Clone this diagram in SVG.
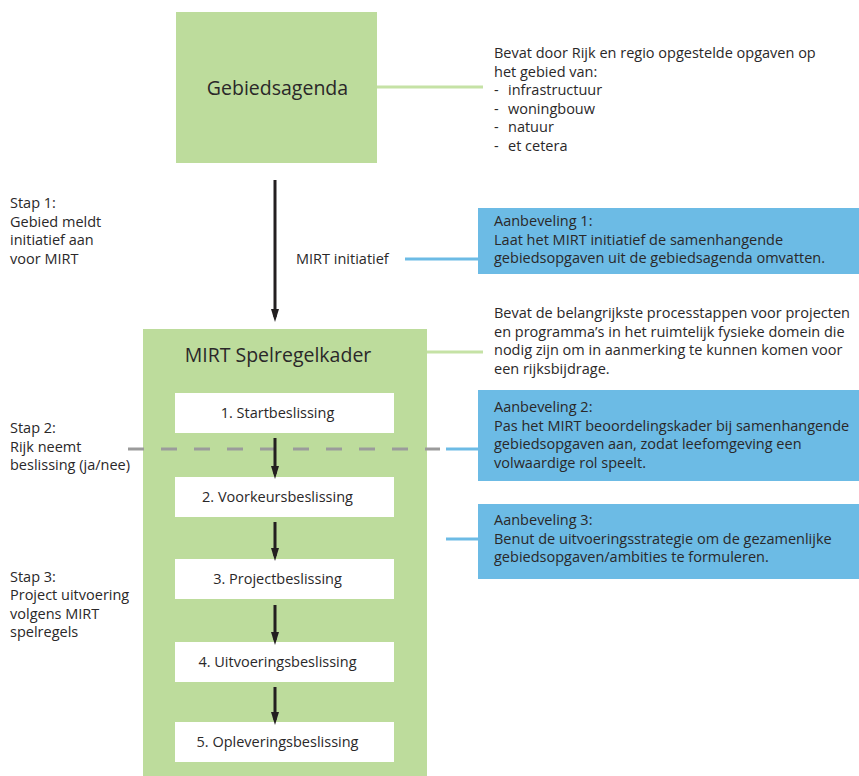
<svg xmlns="http://www.w3.org/2000/svg" width="859" height="776" viewBox="0 0 859 776">
<defs>
<marker id="ah" markerWidth="13" markerHeight="21" refX="13" refY="6.5" orient="auto" markerUnits="userSpaceOnUse" viewBox="0 0 21 13">
<path d="M0,0 L21,6.5 L0,13 Z" fill="#231f20"/>
</marker>
</defs>
<style>
text{font-family:"Open Sans","Lato","Liberation Sans",sans-serif;fill:#2a2829;font-size:14.5px}
.green{fill:#bddc9c}
.blue{fill:#6cbbe5}
.white{fill:#ffffff}
.big{font-size:19.5px}
.mid{text-anchor:middle}
.arrow{stroke:#231f20;stroke-width:3;fill:none;marker-end:url(#ah)}
.gline{stroke:#c5e2a5;stroke-width:3;fill:none}
.bline{stroke:#6cbbe5;stroke-width:3;fill:none}
.dash{stroke:#9b9b9b;stroke-width:3;stroke-dasharray:16 17;fill:none}
</style>
<rect x="0" y="0" width="859" height="776" fill="#ffffff"/>

<g id="connectors">
<line class="gline" x1="377" y1="87" x2="483" y2="87"/>
<line class="gline" x1="427" y1="352" x2="483" y2="352"/>
<line class="bline" x1="405" y1="259" x2="478" y2="259"/>
<line class="bline" x1="446" y1="449" x2="478" y2="449"/>
<line class="bline" x1="446" y1="539" x2="478" y2="539"/>
<line class="arrow" x1="275" y1="180" x2="275" y2="317"/>
</g>

<g id="gebiedsagenda">
<rect class="green" x="176" y="12" width="201" height="151"/>
<text class="big mid" x="277.5" y="95">Gebiedsagenda</text>
</g>

<g id="gebiedsagenda-desc">
<text x="494" y="58">Bevat door Rijk en regio opgestelde opgaven op</text>
<text x="494" y="77">het gebied van:</text>
<text x="494" y="95">-</text><text x="508" y="95">infrastructuur</text>
<text x="494" y="114">-</text><text x="508" y="114">woningbouw</text>
<text x="494" y="132">-</text><text x="508" y="132">natuur</text>
<text x="494" y="151">-</text><text x="508" y="151">et cetera</text>
</g>

<g id="stap1">
<text x="10" y="208">Stap 1:</text>
<text x="10" y="227">Gebied meldt</text>
<text x="10" y="245">initiatief aan</text>
<text x="10" y="264">voor MIRT</text>
</g>

<g id="mirt-initiatief">
<text x="296" y="264">MIRT initiatief</text>
</g>

<g id="aanbeveling1">
<rect class="blue" x="478" y="208" width="381" height="66"/>
<text x="494" y="226">Aanbeveling 1:</text>
<text x="494" y="245">Laat het MIRT initiatief de samenhangende</text>
<text x="494" y="263">gebiedsopgaven uit de gebiedsagenda omvatten.</text>
</g>

<g id="mirt-spelregelkader">
<rect class="green" x="143" y="329" width="284" height="447"/>
<text class="big mid" x="278" y="362">MIRT Spelregelkader</text>
</g>

<g id="mirt-desc">
<text x="494" y="318">Bevat de belangrijkste processtappen voor projecten</text>
<text x="494" y="337">en programma’s in het ruimtelijk fysieke domein die</text>
<text x="494" y="355">nodig zijn om in aanmerking te kunnen komen voor</text>
<text x="494" y="374">een rijksbijdrage.</text>
</g>

<g id="stap2">
<text x="10" y="433">Stap 2:</text>
<text x="10" y="452">Rijk neemt</text>
<text x="10" y="470">beslissing (ja/nee)</text>
</g>

<g id="aanbeveling2">
<rect class="blue" x="478" y="390" width="381" height="91"/>
<text x="494" y="412">Aanbeveling 2:</text>
<text x="494" y="431">Pas het MIRT beoordelingskader bij samenhangende</text>
<text x="494" y="449">gebiedsopgaven aan, zodat leefomgeving een</text>
<text x="494" y="468">volwaardige rol speelt.</text>
</g>

<g id="aanbeveling3">
<rect class="blue" x="478" y="504" width="381" height="75"/>
<text x="494" y="525">Aanbeveling 3:</text>
<text x="494" y="544">Benut de uitvoeringsstrategie om de gezamenlijke</text>
<text x="494" y="562">gebiedsopgaven/ambities te formuleren.</text>
</g>

<g id="stap3">
<text x="10" y="582">Stap 3:</text>
<text x="10" y="600">Project uitvoering</text>
<text x="10" y="619">volgens MIRT</text>
<text x="10" y="637">spelregels</text>
</g>

<g id="step1">
<rect class="white" x="175" y="393" width="219" height="40"/>
<text class="mid" x="277.5" y="418">1. Startbeslissing</text>
</g>
<g id="step2">
<rect class="white" x="175" y="477" width="219" height="40"/>
<text class="mid" x="277.5" y="502">2. Voorkeursbeslissing</text>
</g>
<g id="step3">
<rect class="white" x="175" y="559" width="219" height="40"/>
<text class="mid" x="277.5" y="584">3. Projectbeslissing</text>
</g>
<g id="step4">
<rect class="white" x="175" y="642" width="219" height="40"/>
<text class="mid" x="277.5" y="667">4. Uitvoeringsbeslissing</text>
</g>
<g id="step5">
<rect class="white" x="175" y="722" width="219" height="40"/>
<text class="mid" x="277.5" y="747">5. Opleveringsbeslissing</text>
</g>

<g id="connectors-steps">
<line class="dash" x1="128" y1="449" x2="440" y2="449"/>
<line class="arrow" x1="275" y1="438" x2="275" y2="474"/>
<line class="arrow" x1="275" y1="522" x2="275" y2="556"/>
<line class="arrow" x1="275" y1="605" x2="275" y2="640"/>
<line class="arrow" x1="275" y1="687" x2="275" y2="720"/>
</g>
</svg>
